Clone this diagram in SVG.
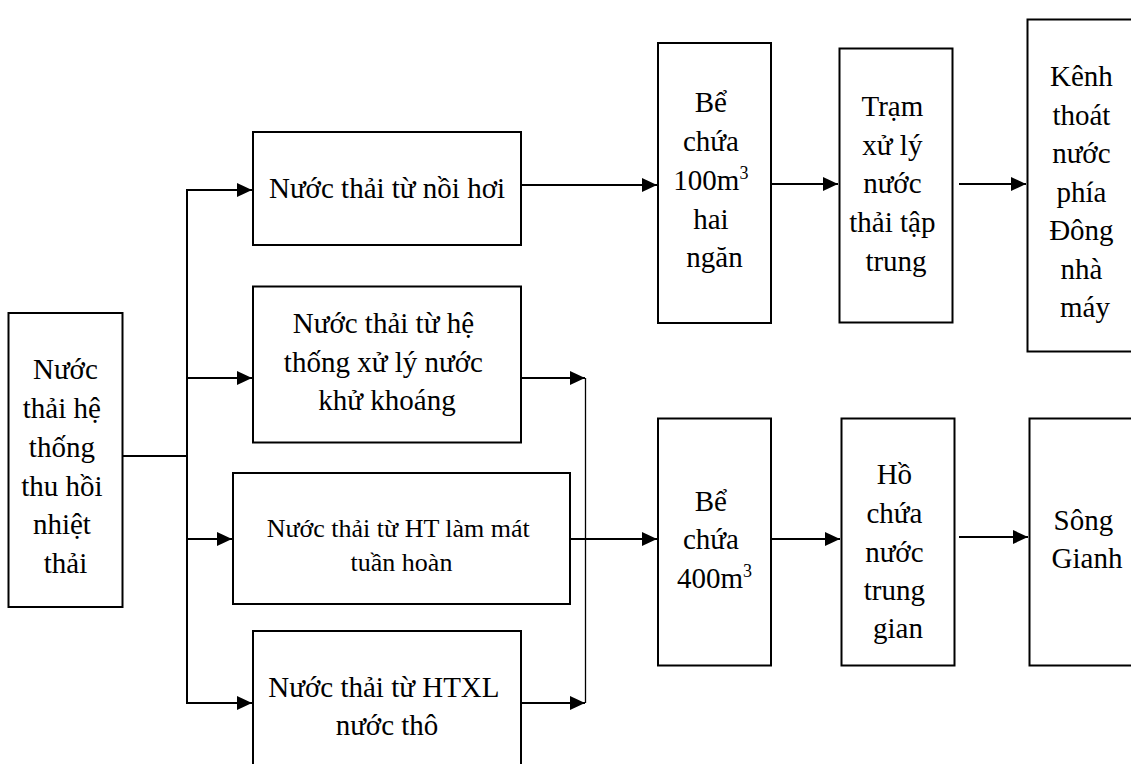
<svg xmlns="http://www.w3.org/2000/svg" width="1131" height="764" viewBox="0 0 1131 764">
  <style>
    .box { fill: #ffffff; stroke: #000000; stroke-width: 2; }
    .lbl { font-family: "Liberation Serif", "Times New Roman", serif; font-size: 29px; fill: #000000; text-anchor: middle; }
    .sm { font-size: 26px; }
    .sup { font-size: 18px; }
    .wire { fill: none; stroke: #000000; stroke-width: 2; }
    .thin { fill: none; stroke: #000000; stroke-width: 1.3; }
  </style>
  <defs>
    <marker id="arrow" markerUnits="userSpaceOnUse" markerWidth="15" markerHeight="14" refX="15" refY="7" orient="auto">
      <path d="M0,0 L15,7 L0,14 z" fill="#000000"/>
    </marker>
  </defs>
  <rect width="1131" height="764" fill="#ffffff"/>

  <!-- connectors -->
  <g id="connectors">
    <line class="wire" x1="122" y1="456" x2="187" y2="456"/>
    <line class="wire" x1="187" y1="189" x2="187" y2="704"/>
    <line class="wire" x1="186" y1="190" x2="252" y2="190" marker-end="url(#arrow)"/>
    <line class="wire" x1="186" y1="378" x2="252" y2="378" marker-end="url(#arrow)"/>
    <line class="wire" x1="186" y1="539" x2="232" y2="539" marker-end="url(#arrow)"/>
    <line class="wire" x1="186" y1="703" x2="252" y2="703" marker-end="url(#arrow)"/>
    <line class="wire" x1="521" y1="185" x2="657" y2="185" marker-end="url(#arrow)"/>
    <line class="wire" x1="771" y1="184" x2="838" y2="184" marker-end="url(#arrow)"/>
    <line class="wire" x1="959" y1="184" x2="1026" y2="184" marker-end="url(#arrow)"/>
    <line class="wire" x1="521" y1="378" x2="585" y2="378" marker-end="url(#arrow)"/>
    <line class="wire" x1="521" y1="703" x2="585" y2="703" marker-end="url(#arrow)"/>
    <line class="thin" x1="585.5" y1="378" x2="585.5" y2="703"/>
    <line class="wire" x1="570" y1="539" x2="657" y2="539" marker-end="url(#arrow)"/>
    <line class="wire" x1="771" y1="539" x2="840" y2="539" marker-end="url(#arrow)"/>
    <line class="wire" x1="959" y1="537" x2="1028" y2="537" marker-end="url(#arrow)"/>
  </g>

  <!-- source -->
  <g id="node-source">
    <rect class="box" x="8.5" y="313" width="114" height="294"/>
    <text class="lbl">
      <tspan x="69" y="379">Nước</tspan>
      <tspan x="65.5" y="418">thải hệ</tspan>
      <tspan x="65.5" y="457">thống</tspan>
      <tspan x="65.5" y="496">thu hồi</tspan>
      <tspan x="65.5" y="534">nhiệt</tspan>
      <tspan x="65.5" y="573">thải</tspan>
    </text>
  </g>

  <!-- waste water streams -->
  <g id="node-boiler">
    <rect class="box" x="253" y="132" width="268" height="113"/>
    <text class="lbl"><tspan x="387" y="198">Nước thải từ nồi hơi</tspan></text>
  </g>
  <g id="node-demin">
    <rect class="box" x="253" y="286.5" width="268" height="156"/>
    <text class="lbl">
      <tspan x="387" y="333">Nước thải từ hệ</tspan>
      <tspan x="387" y="372">thống xử lý nước</tspan>
      <tspan x="387" y="410">khử khoáng</tspan>
    </text>
  </g>
  <g id="node-cooling">
    <rect class="box" x="233" y="473" width="337" height="131"/>
    <text class="lbl sm">
      <tspan x="401.5" y="537">Nước thải từ HT làm mát</tspan>
      <tspan x="401.5" y="571">tuần hoàn</tspan>
    </text>
  </g>
  <g id="node-raw">
    <rect class="box" x="253" y="631" width="268" height="150"/>
    <text class="lbl">
      <tspan x="387" y="697">Nước thải từ HTXL</tspan>
      <tspan x="387" y="735">nước thô</tspan>
    </text>
  </g>

  <!-- upper line -->
  <g id="node-tank100">
    <rect class="box" x="658" y="43" width="113" height="280"/>
    <text class="lbl">
      <tspan x="714.5" y="112">Bể</tspan>
      <tspan x="714.5" y="150.5">chứa</tspan>
      <tspan x="714.5" y="189.5">100m<tspan class="sup" dy="-11">3</tspan></tspan>
      <tspan x="714.5" y="228.5">hai</tspan>
      <tspan x="714.5" y="267">ngăn</tspan>
    </text>
  </g>
  <g id="node-station">
    <rect class="box" x="839.5" y="48.5" width="113" height="274"/>
    <text class="lbl">
      <tspan x="896" y="116">Trạm</tspan>
      <tspan x="896" y="154.5">xử lý</tspan>
      <tspan x="896" y="193">nước</tspan>
      <tspan x="896" y="232">thải tập</tspan>
      <tspan x="896" y="271">trung</tspan>
    </text>
  </g>
  <g id="node-canal">
    <rect class="box" x="1027.5" y="19.5" width="116" height="332"/>
    <text class="lbl">
      <tspan x="1085" y="86">Kênh</tspan>
      <tspan x="1085" y="125">thoát</tspan>
      <tspan x="1085" y="163">nước</tspan>
      <tspan x="1085" y="202">phía</tspan>
      <tspan x="1085" y="240">Đông</tspan>
      <tspan x="1085" y="279">nhà</tspan>
      <tspan x="1085" y="317">máy</tspan>
    </text>
  </g>

  <!-- lower line -->
  <g id="node-tank400">
    <rect class="box" x="658" y="418.5" width="113" height="247"/>
    <text class="lbl">
      <tspan x="714.5" y="511">Bể</tspan>
      <tspan x="714.5" y="549">chứa</tspan>
      <tspan x="714.5" y="588">400m<tspan class="sup" dy="-11">3</tspan></tspan>
    </text>
  </g>
  <g id="node-pond">
    <rect class="box" x="841.5" y="418.5" width="113" height="247"/>
    <text class="lbl">
      <tspan x="898" y="484">Hồ</tspan>
      <tspan x="898" y="523">chứa</tspan>
      <tspan x="898" y="562">nước</tspan>
      <tspan x="898" y="600">trung</tspan>
      <tspan x="898" y="638">gian</tspan>
    </text>
  </g>
  <g id="node-river">
    <rect class="box" x="1029.5" y="418.5" width="116" height="247"/>
    <text class="lbl">
      <tspan x="1087" y="530">Sông</tspan>
      <tspan x="1087" y="568">Gianh</tspan>
    </text>
  </g>
</svg>
